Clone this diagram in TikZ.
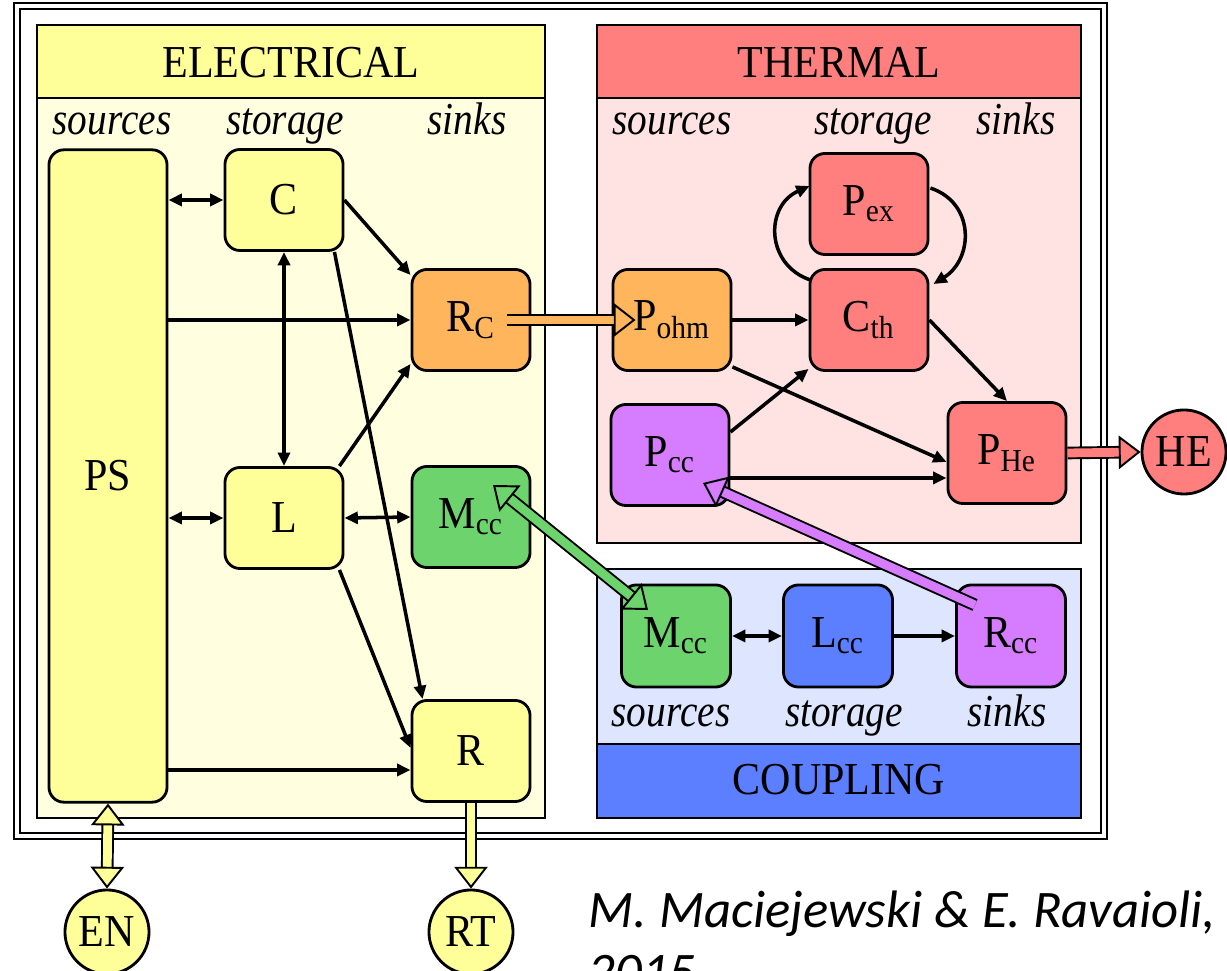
\documentclass[tikz,border=0pt]{standalone}
\usepackage{fontspec}
\setmainfont{Liberation Serif}[FakeStretch=0.92]
\newfontfamily\lblfont{Liberation Serif}[FakeStretch=0.86]
\newfontfamily\citefont{Carlito}
\usetikzlibrary{arrows.meta}
\usetikzlibrary{calc}

\definecolor{ylw}{HTML}{FFFF99}
\definecolor{ylwbg}{HTML}{FFFFE0}
\definecolor{org}{HTML}{FFB55C}
\definecolor{grn}{HTML}{6DD36D}
\definecolor{rd}{HTML}{FF7F7F}
\definecolor{rdbg}{HTML}{FFE3E3}
\definecolor{vio}{HTML}{D57CFF}
\definecolor{blu}{HTML}{5B7FFF}
\definecolor{blubg}{HTML}{DDE5FF}

\begin{document}
\begin{tikzpicture}[x=0.01cm,y=-0.01cm,inner sep=0pt,
  font=\fontsize{13}{15}\selectfont,
  blk/.style={draw,line width=0.8pt,rounded corners=0.15cm,minimum width=1.18cm,minimum height=1.01cm,fill=#1},
  cblk/.style={blk=#1,minimum width=1.09cm,minimum height=1.02cm},
  rnd/.style={draw,circle,line width=0.8pt,minimum size=0.84cm,fill=#1},
  panel/.style={draw,line width=0.8pt,fill=#1},
  arr/.style={line width=1pt,-{Triangle[length=3.8pt,width=3.4pt]}},
  darr/.style={line width=1pt,{Triangle[length=3.8pt,width=3.4pt]}-{Triangle[length=3.8pt,width=3.4pt]}},
  fat/.style={double=#1,double distance=2.5pt,line width=0.55pt,-{Triangle[fill=#1,line width=0.55pt,length=6.2pt,width=9.5pt]}},
  dfat/.style={double=#1,double distance=2.5pt,line width=0.55pt,{Triangle[fill=#1,line width=0.55pt,length=6.2pt,width=9.5pt]}-{Triangle[fill=#1,line width=0.55pt,length=6.2pt,width=9.5pt]}},
  lbl/.style={anchor=base,font=\lblfont\fontsize{13}{15}\selectfont\itshape},
  hdr/.style={anchor=base}]
\useasboundingbox (0,0) rectangle (1227,971);
\clip (0,0) rectangle (1227,971);

% frame and panels
\draw[double,double distance=1.2pt,line width=0.5pt] (17,6) rectangle (1104,836);
\draw[panel=ylwbg] (37,25) rectangle (545,818);
\draw[panel=ylw] (37,25) rectangle (545,98);
\draw[panel=rdbg] (597,25) rectangle (1081,543);
\draw[panel=rd] (597,25) rectangle (1081,98);
\draw[panel=blubg] (597,569) rectangle (1081,818);
\draw[panel=blu] (597,744) rectangle (1081,818);

\node[hdr] at (291,78) {ELECTRICAL};
\node[hdr] at (839,78) {THERMAL};
\node[hdr] at (839,795) {COUPLING};

\node[lbl] at (112,135) {sources};
\node[lbl] at (285,135) {storage};
\node[lbl] at (467,135) {sinks};
\node[lbl] at (672,135) {sources};
\node[lbl] at (873,135) {storage};
\node[lbl] at (1016,135) {sinks};
\node[lbl] at (671,727) {sources};
\node[lbl] at (844,727) {storage};
\node[lbl] at (1007,727) {sinks};

% electrical
\node[blk=ylw,minimum height=6.52cm] (PS) at (108,476) {PS};
\node[blk=ylw] (C) at (284,200) {C};
\node[blk=ylw] (L) at (284,518) {L};
\node[blk=org] (RC) at (471,320) {R\textsubscript{C}};
\node[blk=grn] (Mcce) at (471,517) {M\textsubscript{cc}};
\node[blk=ylw] (R) at (471,751) {R};
\node[rnd=ylw] (EN) at (107,932) {EN};
\node[rnd=ylw] (RT) at (471,932) {RT};

% thermal
\node[blk=org] (Pohm) at (672,320) {P\textsubscript{ohm}};
\node[blk=rd] (Pex) at (869,204) {P\textsubscript{ex}};
\node[blk=rd] (Cth) at (869,320) {C\textsubscript{th}};
\node[blk=vio] (Pcc) at (670,455) {P\textsubscript{cc}};
\node[blk=rd] (PHe) at (1007,453) {P\textsubscript{He}};
\node[rnd=rd] (HE) at (1184,452) {HE};

% coupling
\node[cblk=grn] (Mccc) at (676,636) {M\textsubscript{cc}};
\node[cblk=blu] (Lcc) at (838,636) {L\textsubscript{cc}};
\node[cblk=vio] (Rcc) at (1011,636) {R\textsubscript{cc}};

% electrical connectors
\coordinate (Rin) at ([shift={(0,19)}]R.west);
\draw[darr] (PS.east |- C.east) -- (C.west);
\draw[arr] (PS.east |- RC.west) -- (RC.west);
\draw[darr] (PS.east |- L.west) -- (L.west);
\draw[arr] (PS.east |- Rin) -- (Rin);
\draw[darr] (C.south) -- (L.north);
\draw[arr] (C.east) -- ([shift={(0,7)}]RC.north west);
\draw[arr] ([shift={(-10,0)}]C.south east) -- ([shift={(12,0)}]R.north west);
\draw[arr] ([shift={(-5,0)}]L.north east) -- ([shift={(0,-8)}]RC.south west);
\draw[darr] (L.east) -- (Mcce.west);
\draw[arr] ([shift={(-5,0)}]L.south east) -- ([shift={(0,-3)}]R.west);

% thermal connectors
\coordinate (Pccl) at ([shift={(0,23)}]Pcc.east);
\draw[arr] (Pohm.east) -- (Cth.west);
\draw[arr] ([shift={(0,-5)}]Pohm.south east) -- ([shift={(0,9)}]PHe.west);
\draw[arr] ([shift={(0,-23)}]Pcc.east) -- ([shift={(0,-3)}]Cth.south west);
\draw[arr] (Pccl) -- (Pccl -| PHe.west);
\draw[arr] (Cth.east) -- (PHe.north);
\draw[arr] ([shift={(2,12)}]Cth.north west) .. controls +(-45,-15) and +(-45,20) .. ([shift={(1,34)}]Pex.north west);
\draw[arr] ([shift={(1,36)}]Pex.north east) .. controls +(45,15) and +(40,-25) .. ([shift={(4,16)}]Cth.north east);

% coupling connectors
\draw[darr] (Mccc.east) -- (Lcc.west);
\draw[arr] (Lcc.east) -- (Rcc.west);

% fat arrows between domains
\draw[fat=org] ([shift={(-24,0)}]RC.east) -- ([shift={(24,0)}]Pohm.west);
\draw[fat=rd] (PHe.east) -- (HE.west);
\draw[dfat=grn] ($(Mcce.center)+(22,-32)$) -- ($(Mccc.center)+(-28,-26)$);
\draw[fat=vio] ($(Rcc.center)+(-36,-31)$) -- ($(Pcc.center)+(33,28)$);
\draw[dfat=ylw] (PS.south) -- (EN.north);
\draw[fat=ylw] (R.south) -- (RT.north);

% reference
\node[anchor=base west,font=\citefont\fontsize{15}{18}\selectfont\itshape] (ref1) at (588,928) {M. Maciejewski \& E. Ravaioli,};
\node[anchor=base west,font=\citefont\fontsize{15}{18}\selectfont\itshape] (ref2) at (588,990) {2015};
\end{tikzpicture}
\end{document}
